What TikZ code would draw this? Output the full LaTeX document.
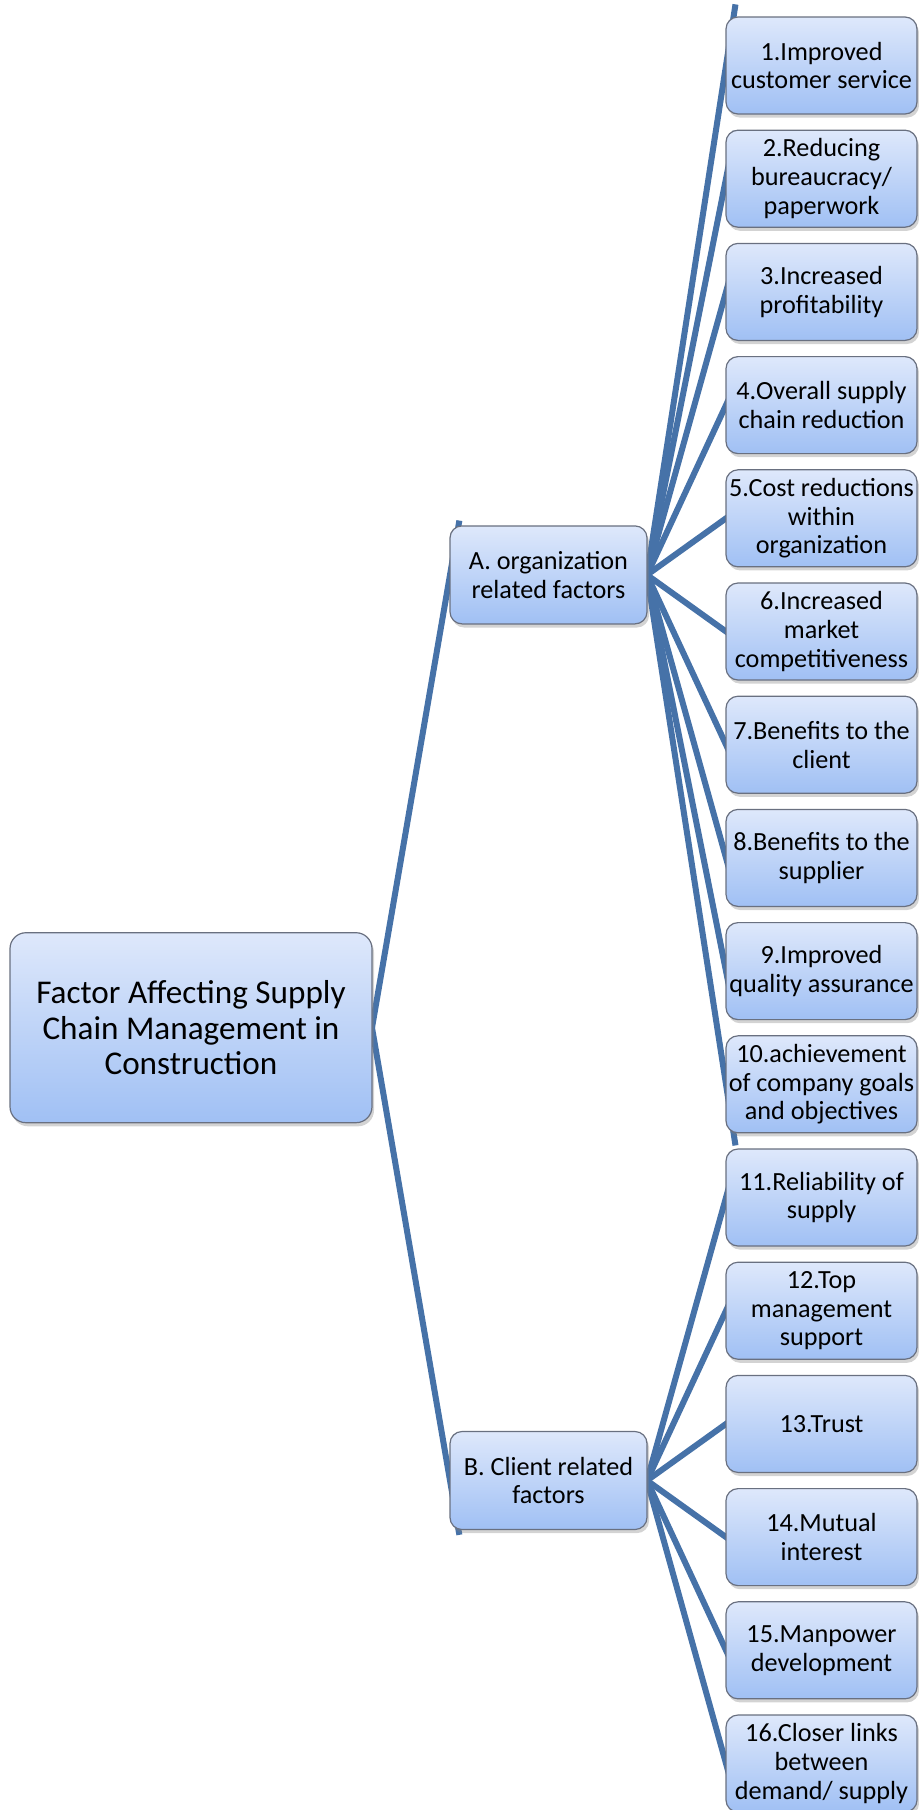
\documentclass[tikz,border=0pt]{standalone}
\usepackage{fontspec}
\setmainfont{Carlito}
\usepackage{tikz}
\usetikzlibrary{positioning,calc,shadows,backgrounds}
\definecolor{linkblue}{RGB}{70,114,168}
\definecolor{boxtop}{RGB}{222,232,251}
\definecolor{boxbottom}{RGB}{160,192,244}
\definecolor{boxrim}{RGB}{105,112,128}

\begin{document}
\begin{tikzpicture}[auto,line width=0.6pt]
				\tikzstyle{factor}=[draw=boxrim,rounded corners=6pt,top color=boxtop,bottom color=boxbottom,
					drop shadow={opacity=0.35,shadow xshift=1pt,shadow yshift=-1.8pt},
					align=center,text=black,font=\fontsize{13.1}{14.4}\selectfont,
					minimum width=95.5pt,minimum height=48.5pt,inner sep=1pt,outer sep=0pt]
				\tikzstyle{group}=[factor,minimum width=98.5pt,minimum height=49pt]
				\tikzstyle{main}=[factor,rounded corners=8pt,minimum width=181pt,minimum height=95pt,
					font=\fontsize{16.6}{17.6}\selectfont]
				\tikzstyle{link}=[draw=linkblue,line width=3pt]
				\useasboundingbox (0,0) rectangle (459pt,-905pt);
				
				\node[factor] (n1) at (410.75pt,-32.75pt) {1.Improved\\customer service};
				\node[factor] (n2) [below = 8.1pt of n1] {2.Reducing\\bureaucracy/\\paperwork};
				\node[factor] (n3) [below = 8.1pt of n2] {3.Increased\\profitability};
				\node[factor] (n4) [below = 8.1pt of n3] {4.Overall supply\\chain reduction};
				\node[factor] (n5) [below = 8.1pt of n4] {5.Cost reductions\\within\\organization};
				\node[factor] (n6) [below = 8.1pt of n5] {6.Increased\\market\\competitiveness};
				\node[factor] (n7) [below = 8.1pt of n6] {7.Benefits to the\\client};
				\node[factor] (n8) [below = 8.1pt of n7] {8.Benefits to the\\supplier};
				\node[factor] (n9) [below = 8.1pt of n8] {9.Improved\\quality assurance};
				\node[factor] (n10) [below = 8.1pt of n9] {10.achievement\\of company goals\\and objectives};
				\node[factor] (n11) [below = 8.1pt of n10] {11.Reliability of\\supply};
				\node[factor] (n12) [below = 8.1pt of n11] {12.Top\\management\\support};
				\node[factor] (n13) [below = 8.1pt of n12] {13.Trust};
				\node[factor] (n14) [below = 8.1pt of n13] {14.Mutual\\interest};
				\node[factor] (n15) [below = 8.1pt of n14] {15.Manpower\\development};
				\node[factor] (n16) [below = 8.1pt of n15] {16.Closer links\\between\\demand/ supply};
				
				\node[group] (A) [left = 39.5pt of {$(n5.west)!0.5!(n6.west)$}] {A. organization\\related factors};
				\node[group] (B) [left = 39.5pt of {$(n13.west)!0.5!(n14.west)$}] {B. Client related\\factors};
				\node[main] (root) [left = 39pt of {$(A.west)!0.5!(B.west)$}] {Factor Affecting Supply\\Chain Management in\\Construction};
				
				\begin{scope}[on background layer]
				\draw[link] (root.east) -- ($(root.east)!1.12!(A.west)$);
				\draw[link] (root.east) -- ($(root.east)!1.12!(B.west)$);
				\foreach \i in {1,...,10}
					\draw[link] (A.east) -- ($(A.east)!1.12!(n\i.west)$);
				\foreach \i in {11,...,16}
					\draw[link] (B.east) -- ($(B.east)!1.12!(n\i.west)$);
				\end{scope}
			\end{tikzpicture}
\end{document}
